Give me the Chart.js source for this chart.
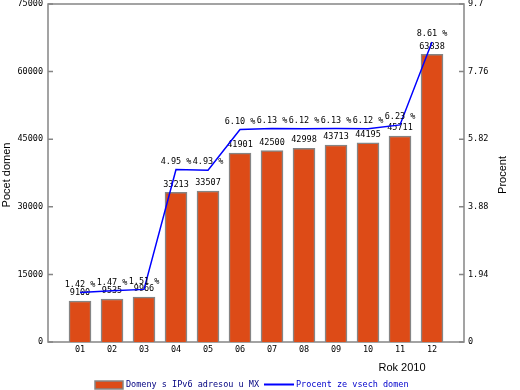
<!DOCTYPE html>
<html>
<head>
<meta charset="utf-8">
<script src="https://cdn.jsdelivr.net/npm/chart.js@4/dist/chart.umd.min.js"></script>
<style>
  html, body { margin: 0; padding: 0; background: #fff; }
  canvas { display: block; }
</style>
</head>
<body>
<canvas id="ipv6Chart" width="520" height="390" style="width:520px;height:390px"></canvas>
<script>
// ----- DATA -----
const months = ["01", "02", "03", "04", "05", "06", "07", "08", "09", "10", "11", "12"];
const domainCounts = [9100, 9535, 9966, 33213, 33507, 41901, 42500, 42998, 43713, 44195, 45711, 63838];
const percentShares = [1.42, 1.47, 1.51, 4.95, 4.93, 6.10, 6.13, 6.12, 6.13, 6.12, 6.23, 8.61];
const countTicks = [0, 15000, 30000, 45000, 60000, 75000];
const percentTicks = [0, 1.94, 3.88, 5.82, 7.76, 9.7];
const seriesLabels = ["Domeny s IPv6 adresou u MX", "Procent ze vsech domen"];
const axisTitles = { left: "Pocet domen", right: "Procent", bottom: "Rok 2010" };

// ----- STYLE -----
const BAR_COLOR = "#dd4b17";
const FRAME_COLOR = "#858585";
const LINE_COLOR = "#0000ff";
const MONO = "'DejaVu Sans Mono', monospace";
const SANS = "'Liberation Sans', Arial, sans-serif";
const SMALL = "8.5px " + MONO;

Chart.defaults.font.family = MONO;
Chart.defaults.font.size = 8.5;
Chart.defaults.color = "#000";

// keep the plot box where the reference has it
function noPad(s) {
  s.paddingTop = 0; s.paddingBottom = 0;
  s.paddingLeft = 0; s.paddingRight = 0;
}

// frame, inward tick marks, value labels, axis titles and legend
const decorations = {
  id: "decorations",
  beforeDatasetsDraw(chart) {
    const { ctx, chartArea: a, scales } = chart;
    ctx.save();
    ctx.strokeStyle = FRAME_COLOR;
    ctx.lineWidth = 1.5;
    ctx.strokeRect(a.left, a.top, a.right - a.left, a.bottom - a.top);
    ctx.beginPath();
    scales.y.ticks.forEach(t => {
      const py = scales.y.getPixelForValue(t.value);
      ctx.moveTo(a.left, py); ctx.lineTo(a.left + 5, py);
    });
    scales.y2.ticks.forEach(t => {
      const py = scales.y2.getPixelForValue(t.value);
      ctx.moveTo(a.right - 5, py); ctx.lineTo(a.right, py);
    });
    ctx.stroke();
    ctx.restore();
  },
  afterDatasetDraw(chart, args) {
    const { ctx } = chart;
    const meta = args.meta;
    ctx.save();
    ctx.font = SMALL;
    ctx.fillStyle = "#000";
    ctx.textAlign = "center";
    ctx.textBaseline = "middle";
    meta.data.forEach((el, i) => {
      const txt = args.index === 0
        ? String(domainCounts[i])
        : percentShares[i].toFixed(2) + " %";
      ctx.fillText(txt, el.x, el.y - 8);
    });
    ctx.restore();
  },
  afterDraw(chart) {
    const { ctx, chartArea: a } = chart;
    const midY = (a.top + a.bottom) / 2 + 2;
    ctx.save();
    ctx.fillStyle = "#000";
    ctx.font = "11px " + SANS;
    ctx.textAlign = "center";
    ctx.textBaseline = "middle";
    // rotated axis titles
    ctx.save();
    ctx.translate(7, midY);
    ctx.rotate(-Math.PI / 2);
    ctx.fillText(axisTitles.left, 0, 0);
    ctx.restore();
    ctx.save();
    ctx.translate(503, midY);
    ctx.rotate(-Math.PI / 2);
    ctx.fillText(axisTitles.right, 0, 0);
    ctx.restore();
    ctx.fillText(axisTitles.bottom, 402, 368);

    // legend
    ctx.font = SMALL;
    ctx.textAlign = "left";
    ctx.fillStyle = BAR_COLOR;
    ctx.fillRect(95, 381, 28, 8);
    ctx.strokeStyle = FRAME_COLOR;
    ctx.lineWidth = 1.5;
    ctx.strokeRect(95, 381, 28, 8);
    ctx.fillStyle = "#000080";
    ctx.fillText(seriesLabels[0], 126, 385);

    ctx.strokeStyle = LINE_COLOR;
    ctx.lineWidth = 2;
    ctx.beginPath();
    ctx.moveTo(264, 384.5); ctx.lineTo(294, 384.5);
    ctx.stroke();
    ctx.fillStyle = "#0000cc";
    ctx.fillText(seriesLabels[1], 296, 385);
    ctx.restore();
  }
};

const ctx = document.getElementById("ipv6Chart").getContext("2d");

const chart = new Chart(ctx, {
  type: "bar",
  data: {
    datasets: [
      {
        label: seriesLabels[0],
        data: months.map((m, i) => ({ x: i + 1, y: domainCounts[i] })),
        backgroundColor: BAR_COLOR,
        borderColor: FRAME_COLOR,
        borderWidth: 1.5,
        barThickness: 22,
        yAxisID: "y",
        order: 1
      },
      {
        type: "line",
        label: seriesLabels[1],
        data: months.map((m, i) => ({ x: i + 1, y: percentShares[i] })),
        borderColor: LINE_COLOR,
        borderWidth: 1.5,
        pointRadius: 0,
        tension: 0,
        fill: false,
        yAxisID: "y2",
        order: 0
      }
    ]
  },
  options: {
    responsive: false,
    animation: false,
    devicePixelRatio: 1,
    layout: { padding: { top: 4, left: 0, right: 0, bottom: 0 } },
    plugins: {
      legend: { display: false },
      tooltip: { enabled: false }
    },
    scales: {
      x: {
        type: "linear",
        offset: false,
        min: 0,
        max: months.length + 1,
        grid: { display: false, drawTicks: false, offset: false },
        border: { display: false },
        afterBuildTicks: s => { s.ticks = months.map((m, i) => ({ value: i + 1 })); },
        afterFit: s => { s.height = 48; noPad(s); },
        ticks: {
          autoSkip: false,
          maxRotation: 0,
          padding: 3,
          callback: v => months[v - 1] || ""
        }
      },
      y: {
        position: "left",
        min: 0,
        max: 75000,
        grid: { display: false, drawTicks: false },
        border: { display: false },
        afterBuildTicks: s => { s.ticks = countTicks.map(v => ({ value: v })); },
        afterFit: s => { s.width = 48; noPad(s); },
        ticks: { padding: 5, callback: v => String(v) }
      },
      y2: {
        position: "right",
        min: 0,
        max: 9.7,
        grid: { display: false, drawTicks: false },
        border: { display: false },
        afterBuildTicks: s => { s.ticks = percentTicks.map(v => ({ value: v })); },
        afterFit: s => { s.width = 56; noPad(s); },
        ticks: { padding: 4, callback: v => String(v) }
      }
    }
  },
  plugins: [decorations]
});
</script>
</body>
</html>
